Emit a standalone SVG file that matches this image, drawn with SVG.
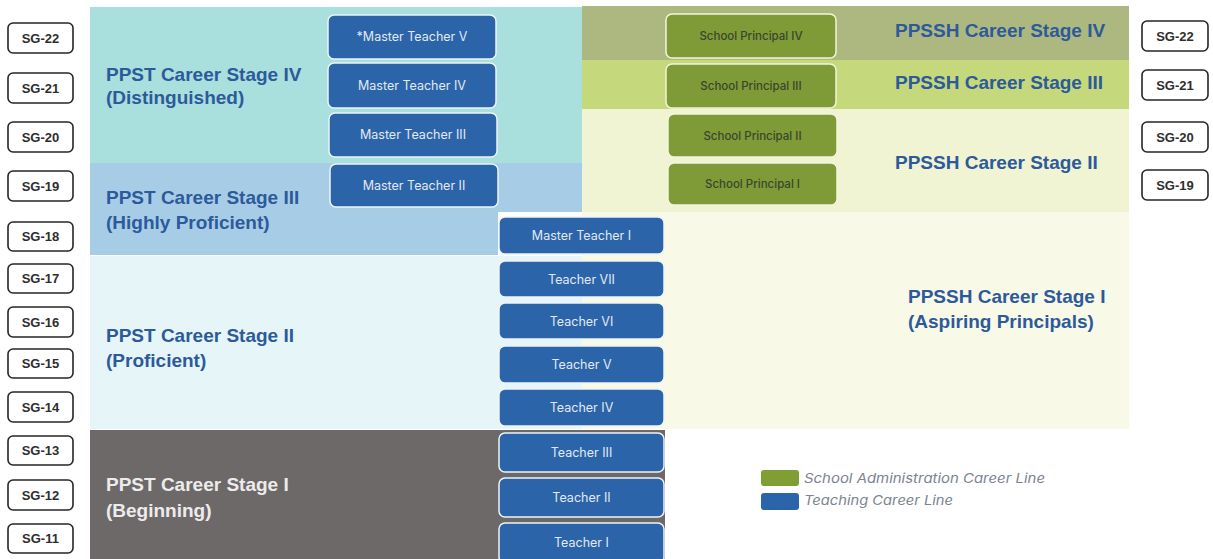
<svg xmlns="http://www.w3.org/2000/svg" width="1213" height="559" viewBox="0 0 1213 559">
<style>
.st{font-family:"Liberation Sans",Arial,sans-serif;font-weight:bold;font-size:19px;fill:#2d5a9b}
.stw{fill:#ececec}
.sg rect{fill:#fff;stroke:#262626;stroke-width:1.6}
.sg text{font-family:"Liberation Sans",Arial,sans-serif;font-weight:bold;font-size:13px;fill:#2e2e2e;text-anchor:middle}
.tb rect{fill:#2b64a9;stroke:#eef4f6;stroke-width:1.5}
.tb text{font-family:Inter,"Noto Sans",sans-serif;font-size:12.5px;fill:#e2e9f2;text-anchor:middle}
.sp rect{fill:#7e9b37;stroke:#f2f5dc;stroke-width:1.5}
.sp text{font-family:Inter,"Noto Sans",sans-serif;font-size:11.5px;font-weight:500;fill:#3a452f;text-anchor:middle}
.lg{font-family:Inter,"Noto Sans",sans-serif;font-style:italic;font-size:13px;fill:#7b8493}
</style>
<rect width="1213" height="559" fill="#fff"/>
<g id="bands">
<rect x="90" y="7" width="492" height="156" fill="#a9dfdc"/>
<path d="M90 163 H582 V212 H498 V255 H90 Z" fill="#a7cde6"/>
<rect x="90" y="256" width="575" height="173" fill="#e6f5f8"/>
<rect x="90" y="430" width="575" height="129" fill="#6e6969"/>
<rect x="582" y="6" width="547" height="54" fill="#adb880"/>
<rect x="582" y="60" width="547" height="49" fill="#c5d87b"/>
<rect x="582" y="109" width="547" height="103" fill="#f0f4d2"/>
<rect x="582" y="212" width="547" height="217" fill="#f8f9e7"/>
</g>
<g id="stage-labels">
<text class="st" x="106" y="81">PPST Career Stage IV</text>
<text class="st" x="106" y="104">(Distinguished)</text>
<text class="st" x="106" y="204">PPST Career Stage III</text>
<text class="st" x="106" y="229">(Highly Proficient)</text>
<text class="st" x="106" y="342">PPST Career Stage II</text>
<text class="st" x="106" y="367">(Proficient)</text>
<text class="st stw" x="106" y="491">PPST Career Stage I</text>
<text class="st stw" x="106" y="517">(Beginning)</text>
<text class="st" x="895" y="37">PPSSH Career Stage IV</text>
<text class="st" x="895" y="89">PPSSH Career Stage III</text>
<text class="st" x="895" y="169">PPSSH Career Stage II</text>
<text class="st" x="908" y="303">PPSSH Career Stage I</text>
<text class="st" x="908" y="328">(Aspiring Principals)</text>
</g>
<g id="sg-left" class="sg">
<g id="sgL22"><rect x="8" y="23" width="65" height="30" rx="5"/><text x="40.5" y="43">SG-22</text></g>
<g id="sgL21"><rect x="8" y="73" width="65" height="30" rx="5"/><text x="40.5" y="93">SG-21</text></g>
<g id="sgL20"><rect x="8" y="122" width="65" height="30" rx="5"/><text x="40.5" y="142">SG-20</text></g>
<g id="sgL19"><rect x="8" y="171" width="65" height="30" rx="5"/><text x="40.5" y="191">SG-19</text></g>
<g id="sgL18"><rect x="8" y="222" width="65" height="29" rx="5"/><text x="40.5" y="241">SG-18</text></g>
<g id="sgL17"><rect x="8" y="264" width="65" height="29" rx="5"/><text x="40.5" y="283">SG-17</text></g>
<g id="sgL16"><rect x="8" y="307" width="65" height="30" rx="5"/><text x="40.5" y="327">SG-16</text></g>
<g id="sgL15"><rect x="8" y="349" width="65" height="29" rx="5"/><text x="40.5" y="368">SG-15</text></g>
<g id="sgL14"><rect x="8" y="392" width="65" height="30" rx="5"/><text x="40.5" y="412">SG-14</text></g>
<g id="sgL13"><rect x="8" y="436" width="65" height="29" rx="5"/><text x="40.5" y="455">SG-13</text></g>
<g id="sgL12"><rect x="8" y="480" width="65" height="30" rx="5"/><text x="40.5" y="500">SG-12</text></g>
<g id="sgL11"><rect x="8" y="524" width="65" height="29" rx="5"/><text x="40.5" y="543">SG-11</text></g>
</g>
<g id="sg-right" class="sg">
<g id="sgR22"><rect x="1142" y="21" width="66" height="30" rx="5"/><text x="1175" y="41">SG-22</text></g>
<g id="sgR21"><rect x="1142" y="70" width="66" height="30" rx="5"/><text x="1175" y="90">SG-21</text></g>
<g id="sgR20"><rect x="1142" y="122" width="66" height="30" rx="5"/><text x="1175" y="142">SG-20</text></g>
<g id="sgR19"><rect x="1142" y="170" width="66" height="30" rx="5"/><text x="1175" y="190">SG-19</text></g>
</g>
<g id="teaching" class="tb">
<g id="mt5"><rect x="328" y="15" width="168" height="44" rx="6"/><text x="412" y="41">*Master Teacher V</text></g>
<g id="mt4"><rect x="328" y="63" width="168" height="45" rx="6"/><text x="412" y="90">Master Teacher IV</text></g>
<g id="mt3"><rect x="329" y="113" width="168" height="44" rx="6"/><text x="413" y="139">Master Teacher III</text></g>
<g id="mt2"><rect x="330" y="164" width="168" height="43" rx="6"/><text x="414" y="189.5">Master Teacher II</text></g>
<g id="mt1"><rect x="499" y="217" width="165" height="37" rx="6"/><text x="581.5" y="240">Master Teacher I</text></g>
<g id="t7"><rect x="499" y="261" width="165" height="36" rx="6"/><text x="581.5" y="283.5">Teacher VII</text></g>
<g id="t6"><rect x="499" y="303" width="165" height="36" rx="6"/><text x="581.5" y="325.5">Teacher VI</text></g>
<g id="t5"><rect x="499" y="346" width="165" height="37" rx="6"/><text x="581.5" y="369">Teacher V</text></g>
<g id="t4"><rect x="499" y="389" width="165" height="37" rx="6"/><text x="581.5" y="412">Teacher IV</text></g>
<g id="t3"><rect x="499" y="433" width="165" height="39" rx="6"/><text x="581.5" y="457">Teacher III</text></g>
<g id="t2"><rect x="499" y="478" width="165" height="39" rx="6"/><text x="581.5" y="502">Teacher II</text></g>
<g id="t1"><rect x="499" y="523" width="165" height="40" rx="6"/><text x="581.5" y="547">Teacher I</text></g>
</g>
<g id="admin" class="sp">
<g id="sp4"><rect x="666" y="14" width="170" height="44" rx="6"/><text x="751" y="40">School Principal IV</text></g>
<g id="sp3"><rect x="666" y="64" width="170" height="44" rx="6"/><text x="751" y="90">School Principal III</text></g>
<g id="sp2"><rect x="668" y="114" width="169" height="43" rx="6"/><text x="752.5" y="139.5">School Principal II</text></g>
<g id="sp1"><rect x="668" y="163" width="169" height="42" rx="6"/><text x="752.5" y="188">School Principal I</text></g>
</g>
<g id="connectors"></g>
<g id="legend">
<rect x="761" y="470" width="38" height="16" rx="3" fill="#7f9f35"/>
<text class="lg" x="804" y="483" textLength="241" lengthAdjust="spacingAndGlyphs">School Administration Career Line</text>
<rect x="761" y="493" width="38" height="17" rx="3" fill="#2b64a9"/>
<text class="lg" x="804" y="505" textLength="149" lengthAdjust="spacingAndGlyphs">Teaching Career Line</text>
</g>
</svg>
